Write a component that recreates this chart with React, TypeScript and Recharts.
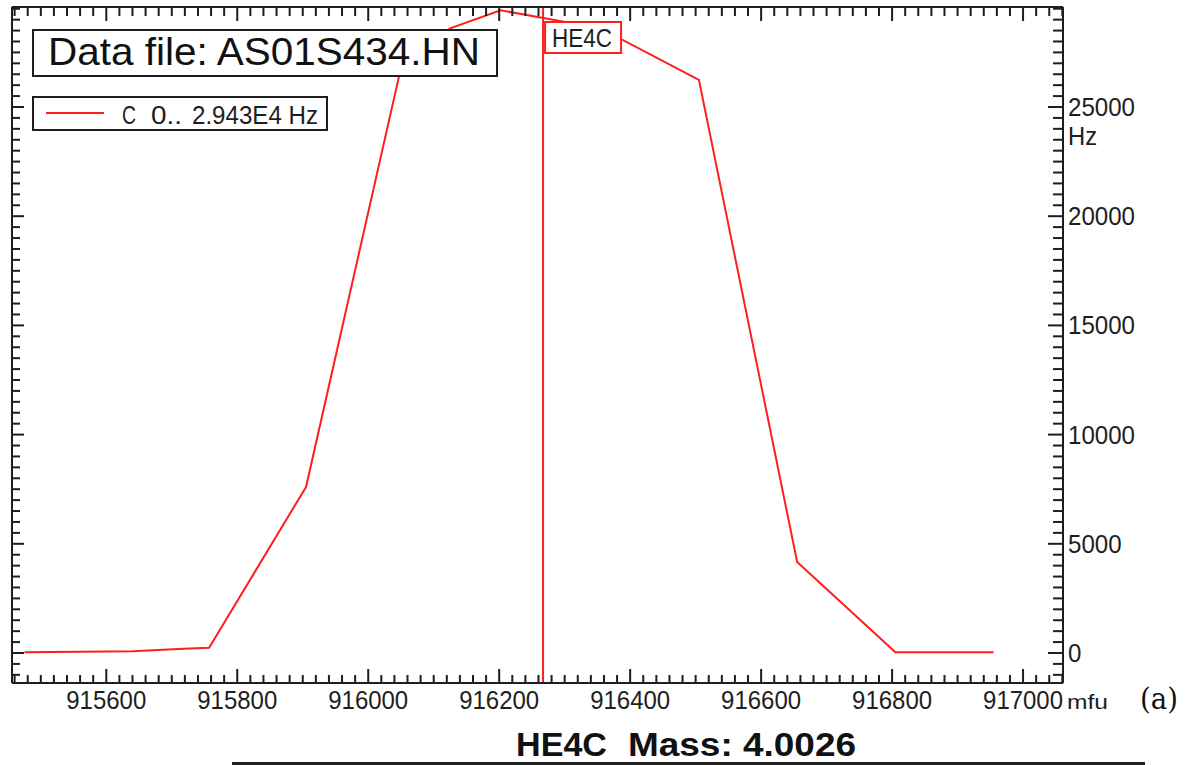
import React from 'react';
import { LineChart, Line, XAxis, YAxis, ReferenceLine, Legend } from 'recharts';

// ---- data ----
const massMfu = [915475, 915640, 915718, 915757, 915905, 916050, 916125, 916202, 916355, 916505, 916655, 916805, 916955];
const signalHz = [30, 80, 190, 240, 7600, 26800, 28600, 29430, 28600, 26240, 4170, 30, 30];
const xMajorTicks = [915600, 915800, 916000, 916200, 916400, 916600, 916800, 917000];
const yMajorTicks = [0, 5000, 10000, 15000, 20000, 25000];
const xDomain: [number, number] = [915456, 917061];
const yDomain: [number, number] = [-1374, 29579];
const markerMass = 916267;
const markerName = 'HE4C';
const dataFileTitle = 'Data file: AS01S434.HN';
const legendChannel = 'C';
const legendRange = '0..';
const legendMax = '2.943E4 Hz';
const xUnit = 'mfu';
const yUnit = 'Hz';
const bottomTitleName = 'HE4C';
const bottomTitleMass = 'Mass: 4.0026';
const panelTag = '(a)';

const xMinorStep = 20;
const yMinorStep = 500;
const xTicks: number[] = [];
for (let v = Math.ceil(xDomain[0] / xMinorStep) * xMinorStep; v <= xDomain[1]; v += xMinorStep) xTicks.push(v);
const yTicks: number[] = [];
for (let v = Math.ceil(yDomain[0] / yMinorStep) * yMinorStep; v <= yDomain[1]; v += yMinorStep) yTicks.push(v);

const data = massMfu.map((m, i) => ({ mass: m, hz: signalHz[i] }));

const FONT = "'Liberation Sans', Arial, sans-serif";
const INK = '#1e1e1e';
const RED = '#ff1e1e';
const MAJOR = 14;
const MINOR = 8;

function BottomTick(props: any) {
  const { x, y, payload } = props;
  const major = xMajorTicks.includes(payload.value);
  return (
    <g>
      <line x1={x} x2={x} y1={y} y2={y - (major ? MAJOR : MINOR)} stroke={INK} strokeWidth={2} />
      {major && (
        <text x={x} y={y + 26} textAnchor="middle" fontSize={25} fill={INK} fontFamily={FONT}
          textLength={80} lengthAdjust="spacingAndGlyphs">{payload.value}</text>
      )}
    </g>
  );
}

function TopTick(props: any) {
  const { x, y, payload } = props;
  const major = xMajorTicks.includes(payload.value);
  return <line x1={x} x2={x} y1={y} y2={y + (major ? MAJOR : MINOR + 1)} stroke={INK} strokeWidth={2} />;
}

function LeftTick(props: any) {
  const { x, y, payload } = props;
  const major = yMajorTicks.includes(payload.value);
  return <line x1={x} x2={x + (major ? MAJOR - 2 : MINOR)} y1={y} y2={y} stroke={INK} strokeWidth={2} />;
}

function RightTick(props: any) {
  const { x, y, payload } = props;
  const major = yMajorTicks.includes(payload.value);
  const label = String(payload.value);
  return (
    <g>
      <line x1={x} x2={x - (major ? MAJOR + 1 : MINOR + 2)} y1={y} y2={y} stroke={INK} strokeWidth={2} />
      {major && (
        <text x={x + 5} y={y + 9} textAnchor="start" fontSize={25} fill={INK} fontFamily={FONT}
          textLength={label.length * 13.4} lengthAdjust="spacingAndGlyphs">{label}</text>
      )}
    </g>
  );
}

function MarkerLabel(props: any) {
  const vb = props.viewBox || {};
  const x = vb.x ?? 0;
  const y = vb.y ?? 0;
  return (
    <g>
      <rect x={x + 2} y={y + 15} width={76} height={31} fill="#fff" stroke={RED} strokeWidth={2} />
      <text x={x + 9} y={y + 40} fontSize={25} fill={INK} fontFamily={FONT}
        textLength={60} lengthAdjust="spacingAndGlyphs">{markerName}</text>
    </g>
  );
}

function LegendBox() {
  return (
    <svg width={296} height={36} style={{ display: 'block', overflow: 'visible' }}>
      <rect x={1} y={1} width={294} height={33} fill="#fff" stroke={INK} strokeWidth={2} />
      <line x1={14} x2={72} y1={17} y2={17} stroke={RED} strokeWidth={2} />
      <text y={28} fontSize={25} fill={INK} fontFamily={FONT}>
        <tspan x={90} textLength={14} lengthAdjust="spacingAndGlyphs">{legendChannel}</tspan>
        <tspan x={119} textLength={31} lengthAdjust="spacingAndGlyphs">{legendRange}</tspan>
        <tspan x={160} textLength={126} lengthAdjust="spacingAndGlyphs">{legendMax}</tspan>
      </text>
    </svg>
  );
}

export default function App() {
  return (
    <div style={{ position: 'absolute', left: 0, top: 0, width: 1189, height: 765, background: '#fff' }}>
      <LineChart width={1189} height={765} data={data} margin={{ top: 0, right: 0, bottom: 0, left: 0 }}>
        <XAxis xAxisId="bottom" dataKey="mass" type="number" orientation="bottom" height={82}
          domain={xDomain} allowDataOverflow ticks={xTicks} interval={0} tickSize={0} tickMargin={0}
          tickLine={false} axisLine={{ stroke: INK, strokeWidth: 2 }} tick={BottomTick} />
        <XAxis xAxisId="top" dataKey="mass" type="number" orientation="top" height={7}
          domain={xDomain} allowDataOverflow ticks={xTicks} interval={0} tickSize={0} tickMargin={0}
          tickLine={false} axisLine={{ stroke: INK, strokeWidth: 2 }} tick={TopTick} />
        <YAxis yAxisId="right" orientation="right" width={126} type="number"
          domain={yDomain} allowDataOverflow ticks={yTicks} interval={0} tickSize={0} tickMargin={0}
          tickLine={false} axisLine={{ stroke: INK, strokeWidth: 2 }} tick={RightTick} />
        <YAxis yAxisId="left" orientation="left" width={12} type="number"
          domain={yDomain} allowDataOverflow ticks={yTicks} interval={0} tickSize={0} tickMargin={0}
          tickLine={false} axisLine={{ stroke: INK, strokeWidth: 2 }} tick={LeftTick} />
        <Line xAxisId="bottom" yAxisId="right" type="linear" dataKey="hz" stroke={RED} strokeWidth={2}
          dot={false} activeDot={false} isAnimationActive={false} />
        <Line xAxisId="top" yAxisId="left" type="linear" dataKey="hz" stroke="none" strokeWidth={0}
          dot={false} activeDot={false} isAnimationActive={false} legendType="none" />
        <ReferenceLine xAxisId="bottom" yAxisId="right" x={markerMass} stroke={RED} strokeWidth={2}
          label={<MarkerLabel />} />
        <Legend layout="horizontal" verticalAlign="middle" align="center"
          wrapperStyle={{ left: 32, top: 96, width: 296, height: 36 }} content={() => <LegendBox />} />
      </LineChart>
      <svg width={1189} height={765} style={{ position: 'absolute', left: 0, top: 0, pointerEvents: 'none' }}>
        <rect x={33} y={30} width={464} height={46} fill="#fff" stroke={INK} strokeWidth={2} />
        <text x={48} y={65} fontSize={39} fill="#111" fontFamily={FONT}
          textLength={432} lengthAdjust="spacingAndGlyphs">{dataFileTitle}</text>
        <text x={1068} y={145} fontSize={25} fill={INK} fontFamily={FONT}
          textLength={29} lengthAdjust="spacingAndGlyphs">{yUnit}</text>
        <text x={1067} y={709} fontSize={21} fill={INK} fontFamily={FONT}
          textLength={41} lengthAdjust="spacingAndGlyphs">{xUnit}</text>
        <text x={1140} y={709} fontSize={30} fill="#111" fontFamily="'DejaVu Serif', 'Liberation Serif', serif"
          textLength={38} lengthAdjust="spacingAndGlyphs">{panelTag}</text>
        <text y={756} fontSize={34} fontWeight="bold" fill="#111" fontFamily={FONT}>
          <tspan x={516} textLength={91} lengthAdjust="spacingAndGlyphs">{bottomTitleName}</tspan>
          <tspan x={628} textLength={228} lengthAdjust="spacingAndGlyphs">{bottomTitleMass}</tspan>
        </text>
        <line x1={232} x2={1145} y1={763.5} y2={763.5} stroke="#222" strokeWidth={3} />
      </svg>
    </div>
  );
}
